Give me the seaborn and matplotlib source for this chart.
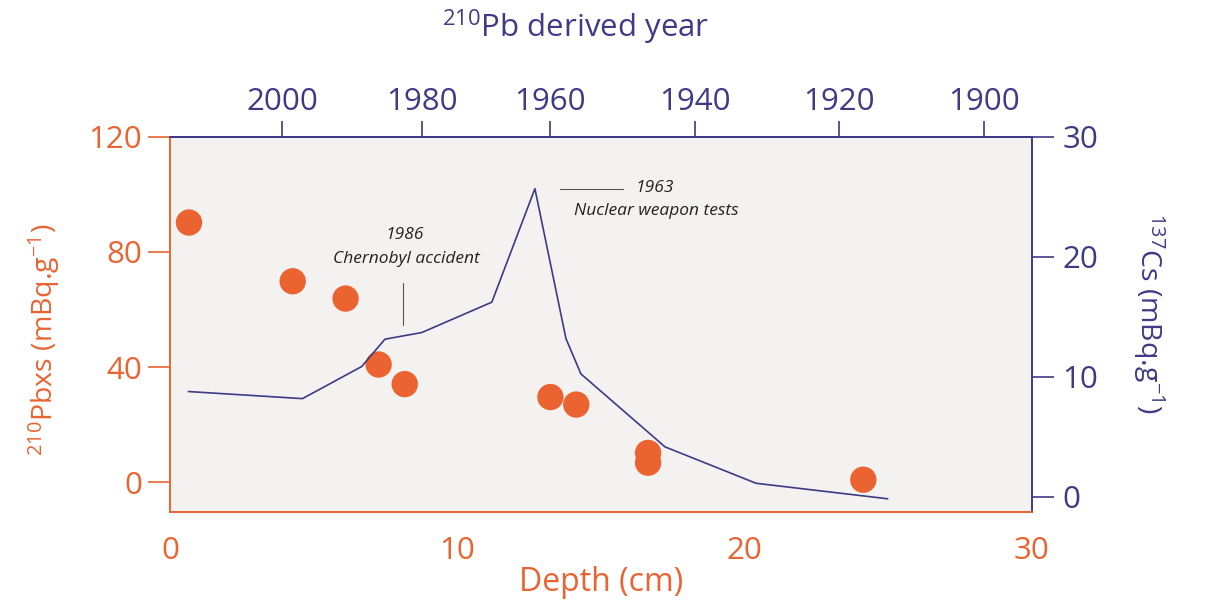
import numpy as np
import pandas as pd
import seaborn as sns
import matplotlib.pyplot as plt

# ---------------------------------------------------------------
# Data
# ---------------------------------------------------------------

pb_depth = [0.66, 4.27, 6.11, 7.26, 8.17, 13.24, 14.14, 16.64, 16.64, 24.13]
pb_activity = [90.2, 69.8, 63.8, 40.9, 34.1, 29.6, 27.0, 10.2, 6.8, 0.9]

cs_depth = [0.64, 4.61, 6.67, 7.48, 8.76, 11.2, 12.7, 13.78, 14.3, 17.23, 20.4, 24.98]
cs_activity = [8.78, 8.19, 10.86, 13.14, 13.69, 16.22, 25.67, 13.19, 10.25, 4.17, 1.14, -0.15]

year_labels = [2000, 1980, 1960, 1940, 1920, 1900]
year_depth = [3.91, 8.76, 13.23, 18.27, 23.28, 28.33]

pb_df = pd.DataFrame({"depth": pb_depth, "pb": pb_activity})
cs_df = pd.DataFrame({"depth": cs_depth, "cs": cs_activity})

# ---------------------------------------------------------------
# Style
# ---------------------------------------------------------------

ORANGE = "#EA6331"
PURPLE = "#3E3A85"
BG = "#F3F2F1"
TICK_FS = 22.5

sns.set_style("white")
plt.rcParams["font.family"] = ["Open Sans", "DejaVu Sans"]
plt.rcParams["mathtext.fontset"] = "custom"
plt.rcParams["mathtext.rm"] = "Open Sans"
plt.rcParams["mathtext.it"] = "Open Sans:italic"

fig = plt.figure(figsize=(12.05, 6.08), dpi=100)
ax = fig.add_axes([0.1411, 0.1579, 0.8564 - 0.1411, 0.7752 - 0.1579])
ax.set_facecolor(BG)

# ---------------------------------------------------------------
# 210Pb scatter (left axis)
# ---------------------------------------------------------------

sns.scatterplot(data=pb_df, x="depth", y="pb", ax=ax, color=ORANGE,
                s=360, edgecolor="none", zorder=3, legend=False)

ax.set_xlim(0, 30)
ax.set_ylim(-10.3, 120)
ax.set_xticks([0, 10, 20, 30])
ax.set_yticks([0, 40, 80, 120])
ax.tick_params(axis="x", colors=ORANGE, labelsize=TICK_FS, length=12, width=1.2,
               direction="out", pad=5)
ax.tick_params(axis="y", colors=ORANGE, labelsize=TICK_FS, length=16, width=1.2,
               direction="out", pad=4)
ax.set_xlabel("Depth (cm)", color=ORANGE, fontsize=23, labelpad=0)
ax.set_ylabel(r"$^{210}$Pbxs (mBq.g$^{-1}$)", color=ORANGE, fontsize=20.5)
ax.yaxis.set_label_coords(-0.125, 0.46)

for side in ["left", "bottom"]:
    ax.spines[side].set_color(ORANGE)
    ax.spines[side].set_linewidth(1.2)
for side in ["top", "right"]:
    ax.spines[side].set_color(PURPLE)
    ax.spines[side].set_linewidth(1.2)

# ---------------------------------------------------------------
# 137Cs line (right axis)
# ---------------------------------------------------------------

ax2 = ax.twinx()
sns.lineplot(data=cs_df, x="depth", y="cs", ax=ax2, color=PURPLE,
             linewidth=1.2, zorder=4)
ax2.set_ylim(-1.25, 30)
ax2.set_yticks([0, 10, 20, 30])
ax2.tick_params(axis="y", colors=PURPLE, labelsize=TICK_FS, length=16, width=1.2,
                direction="out", pad=6)
ax2.set_ylabel(r"$^{137}$Cs (mBq.g$^{-1}$)", color=PURPLE, fontsize=20.5,
               rotation=270)
ax2.yaxis.set_label_coords(1.156, 0.53)
ax2.set_xlabel("")
for side in ["left", "bottom"]:
    ax2.spines[side].set_color(ORANGE)
    ax2.spines[side].set_linewidth(1.2)
for side in ["top", "right"]:
    ax2.spines[side].set_color(PURPLE)
    ax2.spines[side].set_linewidth(1.2)

# ---------------------------------------------------------------
# Top axis: 210Pb derived year
# ---------------------------------------------------------------

top = ax.secondary_xaxis("top")
top.set_xticks(year_depth)
top.set_xticklabels([str(y) for y in year_labels])
top.tick_params(axis="x", colors=PURPLE, labelsize=TICK_FS, length=11.5, width=1.2,
                direction="out", pad=3)
top.spines["top"].set_color(PURPLE)
top.spines["top"].set_linewidth(1.2)
fig.text(0.478, 0.955, r"$^{210}$Pb derived year", color=PURPLE,
         fontsize=22.5, ha="center", va="center")

# ---------------------------------------------------------------
# Annotations
# ---------------------------------------------------------------

ax2.plot([13.57, 15.77], [25.67, 25.67], color="#555555", lw=0.8)
ax2.text(16.88, 25.75, "1963", style="italic", fontsize=12.5,
         ha="center", va="center", color="#222222")
ax2.text(16.92, 23.8, "Nuclear weapon tests", style="italic", fontsize=12.5,
         ha="center", va="center", color="#222222")

ax2.plot([8.10, 8.10], [17.83, 14.33], color="#555555", lw=0.8)
ax2.text(8.18, 21.83, "1986", style="italic", fontsize=12.5,
         ha="center", va="center", color="#222222")
ax2.text(8.23, 19.83, "Chernobyl accident", style="italic", fontsize=12.5,
         ha="center", va="center", color="#222222")

plt.savefig("out.png", dpi=100)
